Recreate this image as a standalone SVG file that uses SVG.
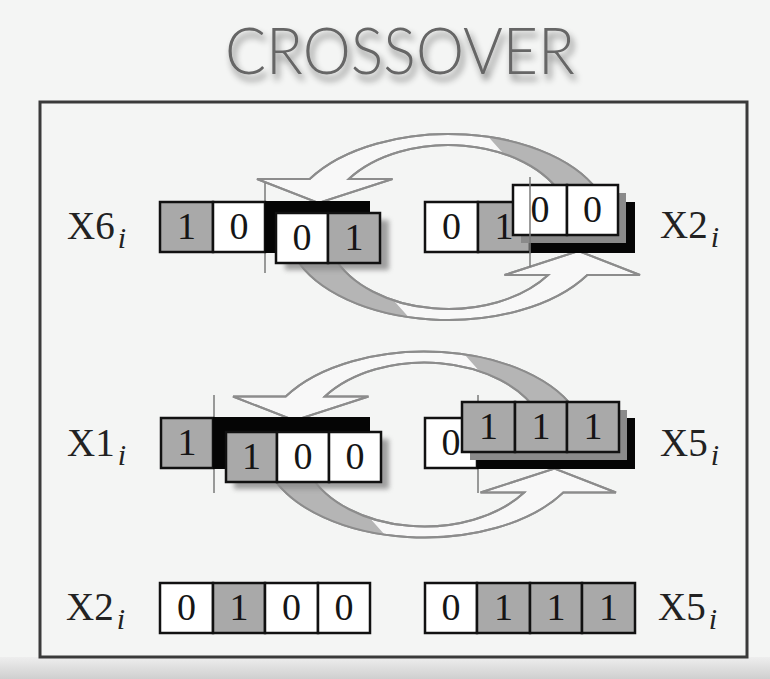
<svg xmlns="http://www.w3.org/2000/svg" xmlns:xlink="http://www.w3.org/1999/xlink" width="770" height="679" viewBox="0 0 770 679">
<style>
.cw{fill:#ffffff;stroke:#111;stroke-width:2.5}
.cg{fill:#a9a9a9;stroke:#111;stroke-width:2.5}
.blk{fill:#050505}
.dg{font-family:"Liberation Serif","Times New Roman",serif;font-size:38px;text-anchor:middle;fill:#151515}
.lbl{font-family:"Liberation Serif","Times New Roman",serif;font-size:39px;fill:#222}
.sub{font-style:italic;font-size:30px}
.band{fill:#f8f8f8;stroke:#8c8c8c;stroke-width:2}
.bandGray{fill:#b5b5b5;stroke:none}
.bandLine{fill:none;stroke:#8c8c8c;stroke-width:2}
.mark{stroke:#7a7a7a;stroke-width:1.5}
.shd{fill:#8a8a8a}
</style>
<defs>
<linearGradient id="bottomGrad" x1="0" y1="0" x2="0" y2="1">
<stop offset="0" stop-color="#eeeeee"/>
<stop offset="1" stop-color="#cfcfcf"/>
</linearGradient>
<filter id="titleShadow" x="-10%" y="-30%" width="120%" height="170%">
<feGaussianBlur in="SourceAlpha" stdDeviation="3.5"/>
<feOffset dx="3" dy="6" result="b"/>
<feComponentTransfer><feFuncA type="linear" slope="0.55"/></feComponentTransfer>
<feMerge><feMergeNode/><feMergeNode in="SourceGraphic"/></feMerge>
</filter>
<filter id="soft" x="-20%" y="-20%" width="140%" height="140%">
<feGaussianBlur stdDeviation="2.5"/>
</filter>
<path id="arrowTop" d="M153.3,-30 A162,93 0 0 0 -138.8,-48 L-191.5,-48 L-130,-24 L-56,-48 L-99.7,-48 A123,82 0 0 1 114.5,-30 Z"/>
<path id="arrowTopGray" d="M40,-90.1 A162,93 0 0 1 153.3,-30 L114.5,-30 A123,82 0 0 0 55,-73.3 Z"/>
<g id="ring">
<use xlink:href="#arrowTop" class="band"/>
<use xlink:href="#arrowTopGray" class="bandGray"/>
<use xlink:href="#arrowTop" class="bandLine"/>
<g transform="rotate(180)">
<use xlink:href="#arrowTop" class="band"/>
<use xlink:href="#arrowTopGray" class="bandGray"/>
<use xlink:href="#arrowTop" class="bandLine"/>
</g>
</g>
</defs>

<rect x="0" y="0" width="770" height="679" fill="#f4f5f4"/>
<rect x="0" y="657" width="770" height="22" fill="url(#bottomGrad)"/>

<g id="title">
<text x="400" y="74" text-anchor="middle" font-family="Lato, Roboto, 'Open Sans', sans-serif" font-weight="300" font-size="65" fill="#666" textLength="350" lengthAdjust="spacingAndGlyphs" filter="url(#titleShadow)">CROSSOVER</text>
</g>

<g id="frame">
<rect x="40" y="102" width="707" height="555" fill="none" stroke="#3a3a3a" stroke-width="3"/>
</g>

<g id="connectors">
<use xlink:href="#ring" transform="translate(448.5,227)"/>
<use xlink:href="#ring" transform="translate(424.5,444.5)"/>
<line class="mark" x1="265" y1="183" x2="265" y2="273"/>
<line class="mark" x1="214" y1="395" x2="214" y2="493"/>
<line class="mark" x1="478" y1="395" x2="478" y2="493"/>
</g>

<!-- Row 1 left: X6 -->
<g id="x6">
<text class="lbl" x="67" y="239">X6<tspan class="sub" dx="3" dy="9">i</tspan></text>
<rect class="cg" x="160" y="202" width="53" height="50"/><text class="dg" x="186.5" y="239">1</text>
<rect class="cw" x="213" y="202" width="52" height="50"/><text class="dg" x="239" y="239">0</text>
<rect class="blk" x="265" y="201" width="105" height="52"/>
<rect class="shd" x="285" y="220" width="104" height="50" filter="url(#soft)" opacity="0.8"/>
<rect class="cw" x="276" y="213" width="52" height="50"/><text class="dg" x="302" y="250">0</text>
<rect class="cg" x="328" y="213" width="52" height="50"/><text class="dg" x="354" y="250">1</text>
</g>

<!-- Row 1 right: X2 -->
<g id="x2top">
<rect class="cw" x="425" y="202" width="53" height="50"/><text class="dg" x="451.5" y="239">0</text>
<rect class="cg" x="478" y="202" width="52" height="50"/><text class="dg" x="504" y="239">1</text>
<rect class="blk" x="530" y="202" width="105" height="51"/>
<rect class="shd" x="521" y="193" width="105" height="50"/>
<rect class="cw" x="513" y="185" width="54" height="50"/><text class="dg" x="540" y="222">0</text>
<rect class="cw" x="567" y="185" width="51" height="50"/><text class="dg" x="592.5" y="222">0</text>
<line class="mark" x1="530" y1="177" x2="530" y2="267"/>
<text class="lbl" x="660" y="238">X2<tspan class="sub" dx="3" dy="9">i</tspan></text>
</g>

<!-- Row 2 left: X1 -->
<g id="x1">
<text class="lbl" x="67" y="456">X1<tspan class="sub" dx="3" dy="9">i</tspan></text>
<rect class="cg" x="161" y="418" width="52" height="50"/><text class="dg" x="187" y="455">1</text>
<rect class="blk" x="213" y="417" width="157" height="52"/>
<rect class="shd" x="234" y="439" width="155" height="50" filter="url(#soft)" opacity="0.8"/>
<rect class="cg" x="226" y="432" width="51" height="50"/><text class="dg" x="251.5" y="469">1</text>
<rect class="cw" x="277" y="432" width="52" height="50"/><text class="dg" x="303" y="469">0</text>
<rect class="cw" x="329" y="432" width="52" height="50"/><text class="dg" x="355" y="469">0</text>
</g>

<!-- Row 2 right: X5 -->
<g id="x5top">
<rect class="cw" x="425" y="418" width="52" height="50"/><text class="dg" x="451" y="455">0</text>
<rect class="blk" x="477" y="418" width="158" height="51"/>
<rect class="shd" x="470" y="410" width="157" height="50"/>
<rect class="cg" x="462" y="402" width="53" height="50"/><text class="dg" x="488.5" y="439">1</text>
<rect class="cg" x="515" y="402" width="52" height="50"/><text class="dg" x="541" y="439">1</text>
<rect class="cg" x="567" y="402" width="52" height="50"/><text class="dg" x="593" y="439">1</text>
<text class="lbl" x="660" y="456">X5<tspan class="sub" dx="3" dy="9">i</tspan></text>
</g>

<!-- Row 3 left: X2 result -->
<g id="x2result">
<text class="lbl" x="66" y="620">X2<tspan class="sub" dx="3" dy="9">i</tspan></text>
<rect class="cw" x="160" y="583" width="53" height="50"/><text class="dg" x="186.5" y="620">0</text>
<rect class="cg" x="213" y="583" width="52" height="50"/><text class="dg" x="239" y="620">1</text>
<rect class="cw" x="265" y="583" width="53" height="50"/><text class="dg" x="291.5" y="620">0</text>
<rect class="cw" x="318" y="583" width="52" height="50"/><text class="dg" x="344" y="620">0</text>
</g>

<!-- Row 3 right: X5 result -->
<g id="x5result">
<rect class="cw" x="425" y="583" width="52" height="50"/><text class="dg" x="451" y="620">0</text>
<rect class="cg" x="477" y="583" width="53" height="50"/><text class="dg" x="503.5" y="620">1</text>
<rect class="cg" x="530" y="583" width="52" height="50"/><text class="dg" x="556" y="620">1</text>
<rect class="cg" x="582" y="583" width="53" height="50"/><text class="dg" x="608.5" y="620">1</text>
<text class="lbl" x="658" y="620">X5<tspan class="sub" dx="3" dy="9">i</tspan></text>
</g>
</svg>
